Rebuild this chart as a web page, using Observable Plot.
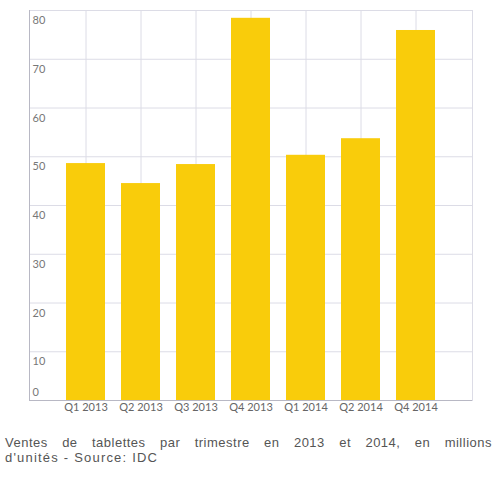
<!DOCTYPE html>
<html>
<head>
<meta charset="utf-8">
<script src="https://cdn.jsdelivr.net/npm/d3@7"></script>
<script src="https://cdn.jsdelivr.net/npm/@observablehq/plot@0.6"></script>
<style>
  body { margin: 0; background: #fff; }
  #caption {
    width: 487px; margin: 15px 0 0 5px;
    font-family: "Liberation Sans", Arial, sans-serif; font-size: 13px; line-height: 15px;
    letter-spacing: 1.2px; color: #555;
  }
  #caption .l1 { text-align: justify; text-align-last: justify; letter-spacing: 0.5px; }
</style>
</head>
<body>
<div id="chart"></div>
<div id="caption"><div class="l1">Ventes de tablettes par trimestre en 2013 et 2014, en millions</div><div>d'unités - Source: IDC</div></div>
<script>
const quarters = ["Q1 2013", "Q2 2013", "Q3 2013", "Q4 2013", "Q1 2014", "Q2 2014", "Q4 2014"];
const sales = [48.6, 44.5, 48.4, 78.4, 50.3, 53.7, 75.9];
const yTicks = [0, 10, 20, 30, 40, 50, 60, 70, 80];

const data = quarters.map((q, i) => ({quarter: q, value: sales[i]}));

const chart = Plot.plot({
  width: 496,
  height: 420,
  marginLeft: 29,
  marginRight: 24,
  marginTop: 10,
  marginBottom: 20,
  style: {fontFamily: "Lato, 'Open Sans', sans-serif", fontSize: "11px", color: "#666", background: "#fff"},
  x: {domain: quarters, paddingInner: 0.3, paddingOuter: 0.65, tickSize: 0, tickPadding: 3, label: null},
  y: {domain: [0, 80], axis: null},
  marks: [
    Plot.ruleY(yTicks, {stroke: "#dcdce6", strokeWidth: 1}),
    Plot.ruleX(quarters, {x: d => d, stroke: "#dcdce6", strokeWidth: 1}),
    Plot.frame({stroke: "#dcdce6"}),
    Plot.barY(data, {x: "quarter", y: "value", fill: "#f9cc0b"}),
    Plot.text(yTicks.filter(d => d > 0), {y: d => d, text: d => String(d), frameAnchor: "left", textAnchor: "start", dx: 3, dy: 10, fill: "#777", fontSize: 11}),
    Plot.text(yTicks.filter(d => d === 0), {y: d => d, text: d => String(d), frameAnchor: "left", textAnchor: "start", dx: 3, dy: -8, fill: "#777", fontSize: 11}),
    Plot.ruleY([0], {stroke: "#b8b8c4"}),
    Plot.frame({anchor: "left", stroke: "#b8b8c4"})
  ]
});
document.getElementById("chart").appendChild(chart);
</script>
</body>
</html>
